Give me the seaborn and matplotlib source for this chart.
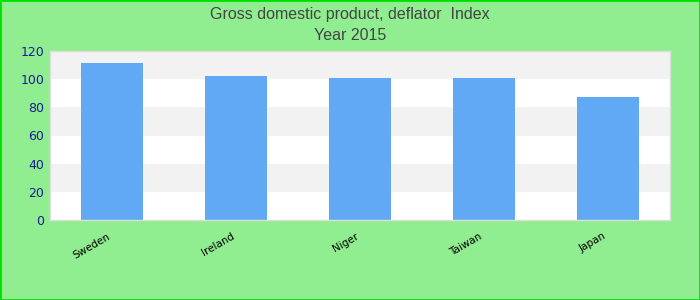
import matplotlib
matplotlib.use("Agg")
import matplotlib.pyplot as plt
import seaborn as sns
import pandas as pd

countries = ["Sweden", "Ireland", "Niger", "Taiwan", "Japan"]
values = [111.5, 102.5, 101.0, 101.0, 87.5]
yticks = [0, 20, 40, 60, 80, 100, 120]
title_lines = ["Gross domestic product, deflator  Index", "Year 2015"]

sns.set_theme(style="white")
plt.rcParams['font.family'] = ['Liberation Sans', 'DejaVu Sans']

df = pd.DataFrame({"country": countries, "value": values})

fig = plt.figure(figsize=(7, 3), dpi=100, facecolor="#90ee90")
ax = fig.add_axes([50/700, 1-220/300, 620/700, 169/300])
ax.set_facecolor("white")

for i in range(0, len(yticks) - 1):
    if i % 2 == 1:
        ax.axhspan(yticks[i], yticks[i+1], color="#f2f2f2", zorder=0, lw=0)

sns.barplot(data=df, x="country", y="value", color="#62a9f5", saturation=1,
            width=0.5, ax=ax, zorder=2, edgecolor="none", linewidth=0)

ax.set_ylim(0, 120)
ax.set_yticks(yticks)
ax.set_yticklabels([str(t) for t in yticks], color="#1a1a9a", fontsize=9,
                   family=['DejaVu Sans'])
ax.set_xticks(range(len(countries)))
ax.set_xticklabels(countries, rotation=30, ha="right", fontsize=7.5, color="black",
                   family=['DejaVu Sans'])
ax.tick_params(axis="both", length=0, pad=4)
ax.tick_params(axis="x", pad=8)
ax.set_xlabel("")
ax.set_ylabel("")
for s in ax.spines.values():
    s.set_color("#dddddd")
    s.set_linewidth(1)

fig.text(0.5, 1-14/300, title_lines[0], ha="center", va="center", fontsize=11.5, color="#444444")
fig.text(0.5, 1-36/300, title_lines[1], ha="center", va="center", fontsize=11.5, color="#444444")

border = plt.Rectangle((0, 0), 1, 1, transform=fig.transFigure, fill=False,
                       edgecolor="#00e000", linewidth=2)
fig.patches.append(border)

fig.savefig("out.png", dpi=100, facecolor=fig.get_facecolor())
